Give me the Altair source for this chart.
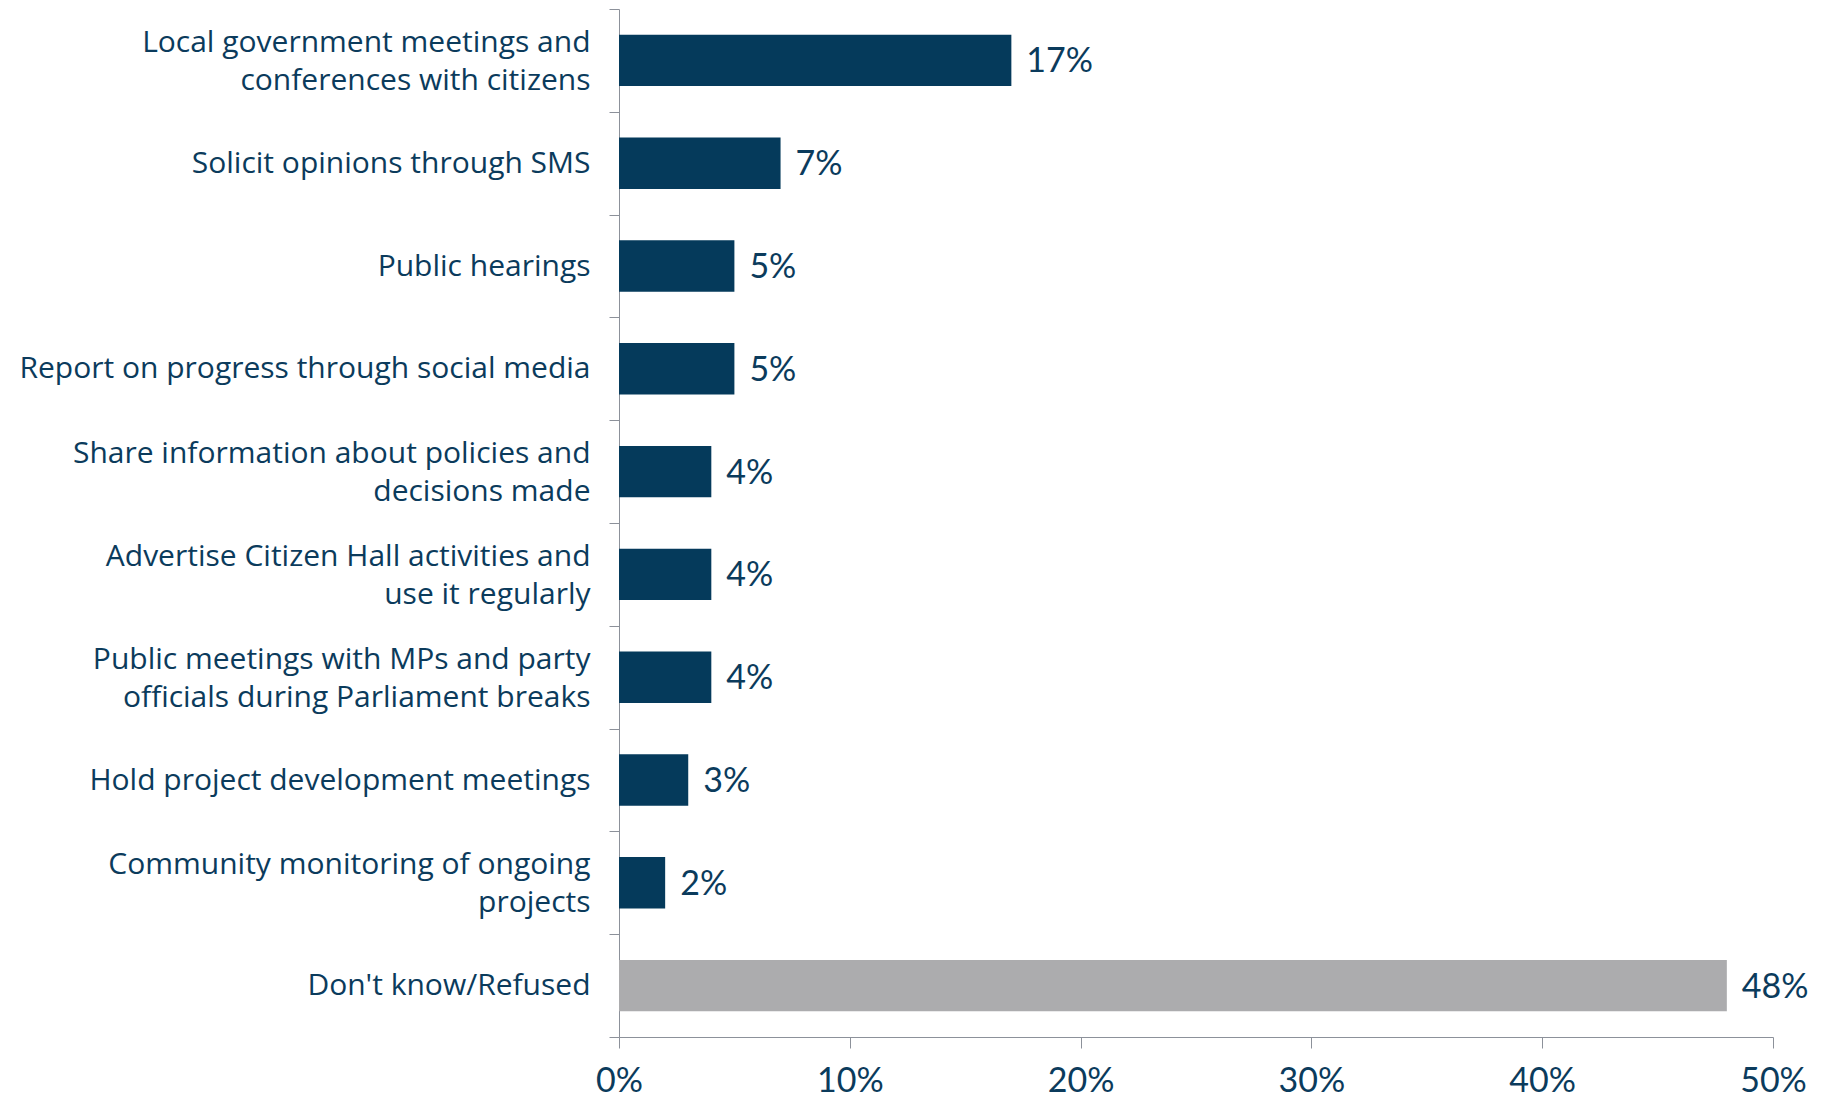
import altair as alt
import pandas as pd

categories = [
    "Local government meetings and|conferences with citizens",
    "Solicit opinions through SMS",
    "Public hearings",
    "Report on progress through social media",
    "Share information about policies and|decisions made",
    "Advertise Citizen Hall activities and|use it regularly",
    "Public meetings with MPs and party|officials during Parliament breaks",
    "Hold project development meetings",
    "Community monitoring of ongoing|projects",
    "Don't know/Refused",
]
values = [0.17, 0.07, 0.05, 0.05, 0.04, 0.04, 0.04, 0.03, 0.02, 0.48]
groups = ["answer"] * 9 + ["none"]

df = pd.DataFrame({"category": categories, "value": values, "group": groups})

NAVY = "#053A5B"
GRAY = "#ACACAE"
TEXT = "#0B3B5C"
AXIS = "#8C919A"
LABEL_FONT = "Open Sans"
NUM_FONT = "Lato"

y = alt.Y(
    "category:N",
    sort=categories,
    title=None,
    scale=alt.Scale(paddingInner=0, paddingOuter=0),
    axis=alt.Axis(
        labelExpr="isValid(datum.value) ? split(datum.value, '|') : ''",
        labelFont=LABEL_FONT,
        labelFontSize=30,
        labelColor=TEXT,
        labelLineHeight=38,
        labelPadding=19,
        labelLimit=800,
        labelOffset={"condition": {"test": "isValid(datum.value) && indexof(datum.value, '|') >= 0", "value": -18}, "value": 0},
        tickBand="extent",
        tickSize=10,
        tickColor=AXIS,
        domainColor=AXIS,
        labelAlign="right",
    ),
)

x = alt.X(
    "value:Q",
    title=None,
    scale=alt.Scale(domain=[0, 0.5], nice=False),
    axis=alt.Axis(
        values=[0, 0.1, 0.2, 0.3, 0.4, 0.5],
        format=".0%",
        labelFont=NUM_FONT,
        labelFontSize=34,
        labelColor=TEXT,
        labelPadding=16,
        labelFlush=False,
        tickSize=11,
        tickColor=AXIS,
        domainColor=AXIS,
        grid=False,
    ),
)

bars = alt.Chart(df).mark_bar(height={"band": 0.5}).encode(
    y=y,
    x=x,
    color=alt.Color(
        "group:N",
        scale=alt.Scale(domain=["answer", "none"], range=[NAVY, GRAY]),
        legend=None,
    ),
)

labels = alt.Chart(df).mark_text(
    align="left", baseline="middle", dx=15, dy=2, font=NUM_FONT, fontSize=34, color=TEXT
).encode(
    y=alt.Y("category:N", sort=categories),
    x="value:Q",
    text=alt.Text("value:Q", format=".0%"),
)

chart = (
    alt.layer(bars, labels)
    .properties(
        width=1154,
        height=1028,
        autosize=alt.AutoSizeParams(type="none"),
        padding={"left": 611, "top": 1, "right": 40, "bottom": 62},
    )
    .configure(background="white", view=alt.ViewConfig(strokeWidth=0, stroke="transparent"))
)

chart.save("out.html", embed_options={"renderer": "svg", "actions": False})
